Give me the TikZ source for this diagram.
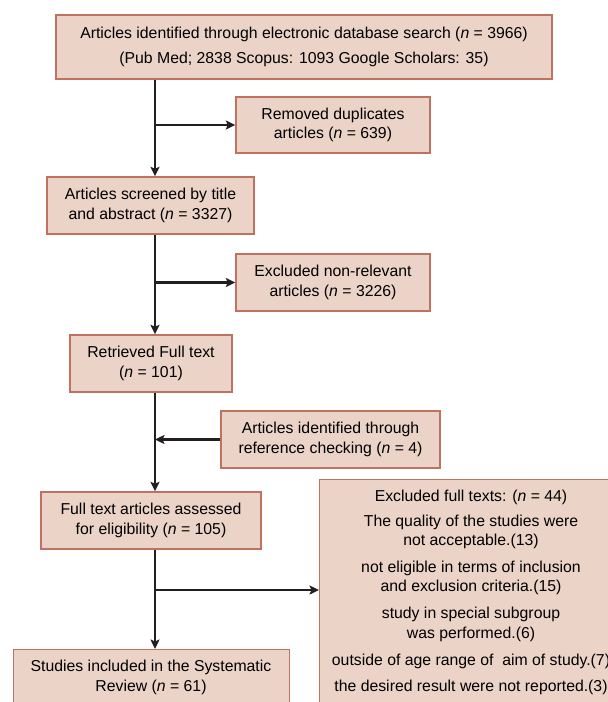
\documentclass[tikz,border=0pt]{standalone}
\usepackage{fontspec}
\setmainfont{Liberation Sans}
\usetikzlibrary{arrows.meta,calc}
\definecolor{boxfill}{HTML}{EBD3C7}
\definecolor{boxline}{HTML}{C07260}
\definecolor{conn}{HTML}{231F20}
\newcommand\boxfont{\fontsize{15.8}{19.5}\selectfont}
\begin{document}
\begin{tikzpicture}[x=1pt,y=-1pt,
  box/.style={draw=boxline, fill=boxfill, line width=1.4pt, align=center, inner sep=0pt, font=\boxfont},
  boxtext/.style={align=center, inner sep=0pt, font=\boxfont, anchor=north},
  arr/.style={draw=conn, line width=2.2pt, -{Stealth[length=9.5pt,width=9pt,inset=2pt]}}]
\useasboundingbox (0,0) rectangle (608,702);
\clip (0,0) rectangle (608,702);

\node[box, minimum width=496pt, minimum height=64pt] (b1) at (304,47)
  {Articles identified through electronic database search (\textit{n} = 3966)\\[5.5pt](Pub Med; 2838 Scopus: 1093 Google Scholars: 35)};
\node[box, minimum width=194pt, minimum height=56pt] (b2) at (333,125)
  {Removed duplicates\\articles (\textit{n} = 639)};
\node[box, minimum width=207pt, minimum height=57pt] (b3) at (150.5,205.5)
  {Articles screened by title\\and abstract (\textit{n} = 3327)};
\node[box, minimum width=194pt, minimum height=57pt] (b4) at (333,282.5)
  {Excluded non-relevant\\articles (\textit{n} = 3226)};
\node[box, minimum width=162pt, minimum height=57pt] (b5) at (151,363.5)
  {Retrieved Full text\\(\textit{n} = 101)};
\node[box, minimum width=219pt, minimum height=57pt] (b6) at (330.5,439.5)
  {Articles identified through\\reference checking (\textit{n} = 4)};
\node[box, minimum width=220pt, minimum height=57pt] (b7) at (151,520.5)
  {Full text articles assessed\\for eligibility (\textit{n} = 105)};
\node[box, anchor=north west, minimum width=304pt, minimum height=260pt] (b8) at (319,479) {};
\node[boxtext] (b8t) at (471,490)
  {Excluded full texts: (\textit{n} = 44)\\[5pt]
   The quality of the studies were\\not acceptable.(13)\\[7pt]
   not eligible in terms of inclusion\\and exclusion criteria.(15)\\[7.5pt]
   study in special subgroup\\was performed.(6)\\[7.5pt]
   outside of age range of~ aim of study.(7)\\[7pt]
   the desired result were not reported.(3)};
\node[box, anchor=north west, minimum width=276pt, minimum height=90pt] (b9) at (13,649) {};
\node[boxtext] (b9t) at (151,660)
  {Studies included in the Systematic\\Review (\textit{n} = 61)};

\coordinate (sp) at (155,0);
\coordinate (j4) at (155,590);
\draw[arr] (b1.south -| sp) -- (b3.north -| sp);
\draw[arr] (b2.west -| sp) -- (b2.west);
\draw[arr] (b3.south -| sp) -- (b5.north -| sp);
\draw[arr] (b4.west -| sp) -- (b4.west);
\draw[arr] (b5.south -| sp) -- (b7.north -| sp);
\draw[arr] (b6.west) -- (b6.west -| sp);
\draw[arr] (b7.south -| sp) -- (b9.north -| sp);
\draw[arr] (j4) -- (j4 -| b8.west);
\end{tikzpicture}
\end{document}
